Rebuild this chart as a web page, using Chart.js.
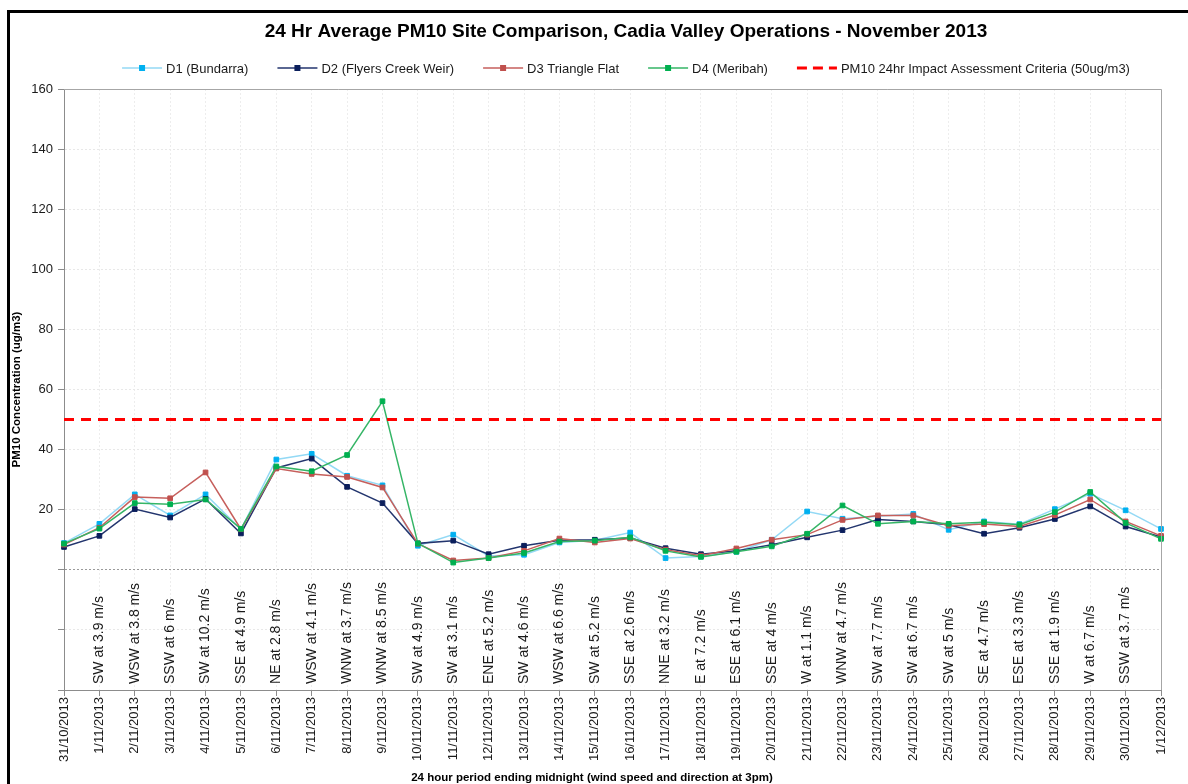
<!DOCTYPE html>
<html>
<head>
<meta charset="utf-8">
<script src="https://cdn.jsdelivr.net/npm/chart.js@4.4.0/dist/chart.umd.min.js"></script>
<style>
  html, body { margin: 0; padding: 0; background: #fff; }
  #wrap { position: relative; width: 1188px; height: 784px; }
</style>
</head>
<body>
<div id="wrap"><canvas id="chartPM10" width="1188" height="784"></canvas></div>
<script>
// fechas del eje x (24 h que terminan a medianoche)
const fechas = [
    "31/10/2013", "1/11/2013", "2/11/2013", "3/11/2013", "4/11/2013", "5/11/2013", "6/11/2013", "7/11/2013",
    "8/11/2013", "9/11/2013", "10/11/2013", "11/11/2013", "12/11/2013", "13/11/2013", "14/11/2013", "15/11/2013",
    "16/11/2013", "17/11/2013", "18/11/2013", "19/11/2013", "20/11/2013", "21/11/2013", "22/11/2013", "23/11/2013",
    "24/11/2013", "25/11/2013", "26/11/2013", "27/11/2013", "28/11/2013", "29/11/2013", "30/11/2013", "1/12/2013"
];

// viento a las 3pm, del 1/11 al 30/11
const vientos = [
    "SW at 3.9 m/s", "WSW at 3.8 m/s", "SSW at 6 m/s", "SW at 10.2 m/s", "SSE at 4.9 m/s", "NE at 2.8 m/s",
    "WSW at 4.1 m/s", "WNW at 3.7 m/s", "WNW at 8.5 m/s", "SW at 4.9 m/s", "SW at 3.1 m/s", "ENE at 5.2 m/s",
    "SW at 4.6 m/s", "WSW at 6.6 m/s", "SW at 5.2 m/s", "SSE at 2.6 m/s", "NNE at 3.2 m/s", "E at 7.2 m/s",
    "ESE at 6.1 m/s", "SSE at 4 m/s", "W at 1.1 m/s", "WNW at 4.7 m/s", "SW at 7.7 m/s", "SW at 6.7 m/s",
    "SW at 5 m/s", "SE at 4.7 m/s", "ESE at 3.3 m/s", "SSE at 1.9 m/s", "W at 6.7 m/s", "SSW at 3.7 m/s"
];

const d1Bundarra = [8.9, 15.3, 25.1, 18.1, 25.1, 13.5, 36.7, 38.6, 31.3, 28.1, 8.0, 11.7, 4.6, 5.0, 9.1, 9.8,
    12.4, 3.9, 4.4, 6.0, 10.0, 19.4, 17.0, 17.8, 18.6, 13.3, 16.1, 15.2, 20.2, 25.3, 19.8, 13.6];
const d2FlyersCreek = [7.6, 11.3, 20.2, 17.4, 23.6, 12.1, 33.9, 37.0, 27.6, 22.2, 8.8, 9.7, 5.2, 8.0, 9.8, 10.0,
    10.6, 7.2, 5.2, 6.3, 8.3, 10.8, 13.2, 16.7, 16.1, 15.0, 12.0, 14.0, 16.9, 21.1, 14.4, 10.9];
const d3TriangleFlat = [8.4, 14.0, 24.2, 23.8, 32.4, 13.5, 33.7, 31.9, 30.9, 27.4, 8.7, 3.1, 3.9, 6.3, 10.4, 9.1,
    10.4, 6.7, 4.7, 7.1, 10.0, 11.7, 16.6, 18.1, 18.1, 14.7, 15.2, 14.4, 18.2, 23.4, 16.1, 11.3];
const d4Meribah = [8.7, 13.7, 22.2, 21.8, 23.4, 13.6, 34.4, 32.8, 38.2, 56.1, 8.8, 2.4, 3.9, 5.6, 9.4, 9.7,
    10.8, 6.3, 4.3, 6.0, 7.8, 12.0, 21.4, 15.3, 16.1, 15.3, 15.8, 15.0, 19.2, 25.9, 15.6, 10.3];

const CRITERIO = 50; // ug/m3

const FUENTE = "'Liberation Sans', Arial, sans-serif";
Chart.defaults.font.family = FUENTE;

function serie(label, data, linea, punto, orden) {
    return {
        label, data,
        borderColor: linea,
        backgroundColor: punto,
        borderWidth: 1.5,
        pointStyle: "rect",
        pointRadius: 3.3,
        pointBorderWidth: 1,
        pointBackgroundColor: punto,
        pointBorderColor: punto,
        tension: 0,
        order: orden
    };
}

const datasets = [
    serie("D1 (Bundarra)", d1Bundarra, "#93d9f5", "#00b0f0", 4),
    serie("D2 (Flyers Creek Weir)", d2FlyersCreek, "#23356e", "#0b1f5c", 3),
    serie("D3 Triangle Flat", d3TriangleFlat, "#c65f5c", "#c0504d", 2),
    serie("D4 (Meribah)", d4Meribah, "#35b566", "#00b050", 1),
    {
        label: "PM10 24hr Impact Assessment Criteria (50ug/m3)",
        data: [{ x: fechas[0], y: CRITERIO }, { x: fechas[fechas.length - 1], y: CRITERIO }],
        borderColor: "#ff0000",
        borderWidth: 3,
        borderDash: [10, 7],
        pointRadius: 0,
        order: 0
    }
];

const decoracion = {
    id: "decoracion",
    beforeDraw(chart) {
        const ctx = chart.ctx;
        ctx.save();
        ctx.fillStyle = "#fff";
        ctx.fillRect(0, 0, chart.width, chart.height);
        ctx.restore();
    },
    afterDraw(chart) {
        const ctx = chart.ctx;
        const a = chart.chartArea;
        const xs = chart.scales.x;
        ctx.save();

        // caja del area de trazado
        ctx.strokeStyle = "#a6a6a6";
        ctx.lineWidth = 1;
        ctx.beginPath();
        ctx.moveTo(a.left, a.top + 0.5);
        ctx.lineTo(a.right + 0.5, a.top + 0.5);
        ctx.lineTo(a.right + 0.5, a.bottom);
        ctx.stroke();

        // marco negro
        ctx.fillStyle = "#000";
        ctx.fillRect(7, 10, 3, chart.height - 10);
        ctx.fillRect(7, 10, chart.width - 7, 3);

        // titulo
        ctx.fillStyle = "#000";
        ctx.font = "bold 19px " + FUENTE;
        ctx.textAlign = "center";
        ctx.textBaseline = "middle";
        ctx.fillText("24 Hr Average PM10 Site Comparison, Cadia Valley Operations - November 2013", 626, 32);

        // leyenda
        ctx.font = "13px " + FUENTE;
        const items = chart.data.datasets.map(ds => ({ ds, w: 44 + ctx.measureText(ds.label).width }));
        const gap = 29;
        const total = items.reduce((s, it) => s + it.w, 0) + gap * (items.length - 1);
        let x = 626 - total / 2;
        const yl = 68;
        items.forEach(({ ds, w }) => {
            ctx.save();
            ctx.strokeStyle = ds.borderColor;
            ctx.lineWidth = ds.borderWidth;
            if (ds.borderDash) ctx.setLineDash([10, 6]);
            ctx.beginPath();
            ctx.moveTo(x, yl);
            ctx.lineTo(x + 40, yl);
            ctx.stroke();
            ctx.restore();
            if (ds.pointRadius) {
                ctx.fillStyle = ds.pointBackgroundColor;
                ctx.fillRect(x + 17, yl - 3, 6, 6);
            }
            ctx.fillStyle = "#1a1a1a";
            ctx.textAlign = "left";
            ctx.fillText(ds.label, x + 44, yl + 1);
            x += w + gap;
        });

        // viento a las 3pm, en la franja bajo el cero
        ctx.font = "14px " + FUENTE;
        ctx.fillStyle = "#1a1a1a";
        ctx.textAlign = "left";
        ctx.textBaseline = "middle";
        vientos.forEach((txt, i) => {
            const px = xs.getPixelForValue(i + 1);
            ctx.save();
            ctx.translate(px, a.bottom - 6);
            ctx.rotate(-Math.PI / 2);
            ctx.fillText(txt, 0, 0);
            ctx.restore();
        });

        // titulo eje x
        ctx.font = "bold 11.5px " + FUENTE;
        ctx.fillStyle = "#000";
        ctx.textAlign = "center";
        ctx.fillText("24 hour period ending midnight (wind speed and direction at 3pm)", 592, 778);

        ctx.restore();
    }
};

new Chart(document.getElementById("chartPM10"), {
    type: "line",
    data: { labels: fechas, datasets },
    options: {
        responsive: false,
        animation: false,
        layout: { padding: { top: 89, left: 0, right: 27, bottom: 0 } },
        plugins: {
            legend: { display: false },
            title: { display: false },
            tooltip: { enabled: false }
        },
        scales: {
            x: {
                offset: false,
                ticks: { autoSkip: false, maxRotation: 90, minRotation: 90, color: "#1a1a1a", font: { size: 13 }, padding: 1 },
                grid: { color: "#ededed", tickLength: 6, tickColor: "#8c8c8c", tickBorderDash: [] },
                border: { color: "#8c8c8c", dash: [2, 2] },
                afterFit: s => { s.height = 94; }
            },
            y: {
                min: -40,
                max: 160,
                ticks: { stepSize: 20, color: "#1a1a1a", font: { size: 13 }, padding: 5, callback: v => (v > 0 ? v : "") },
                grid: {
                    color: c => (c.tick && c.tick.value === 0 ? "#9a9a9a" : "#e8e8e8"),
                    tickLength: 6, tickColor: "#8c8c8c", tickBorderDash: []
                },
                border: { color: "#8c8c8c", dash: [2, 2] },
                title: {
                    display: true, text: "PM10 Concentration (ug/m3)", color: "#000",
                    font: { size: 11.5, weight: "bold" }, padding: { top: 10, bottom: 0 }
                },
                afterFit: s => { s.width = 64; }
            }
        }
    },
    plugins: [decoracion]
});
</script>
</body>
</html>
